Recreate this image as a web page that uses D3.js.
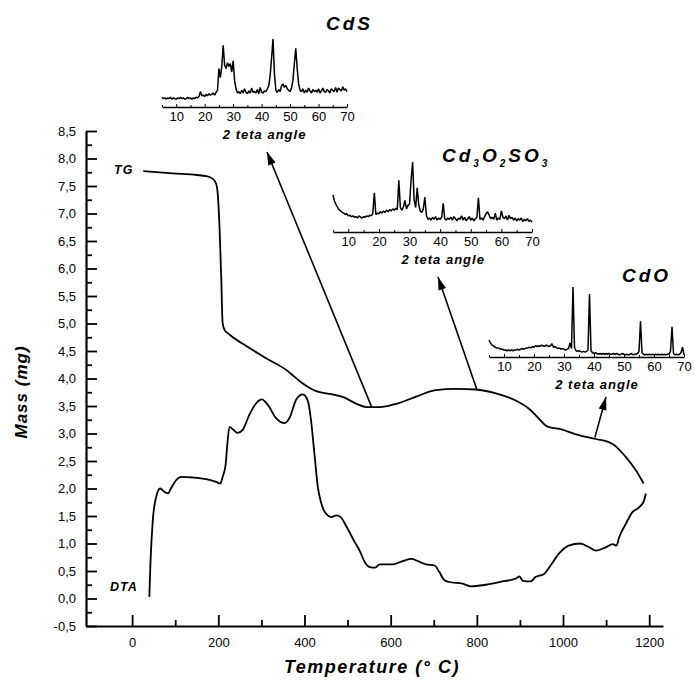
<!DOCTYPE html>
<html>
<head>
<meta charset="utf-8">
<script src="https://cdn.jsdelivr.net/npm/d3@7"></script>
<style>
  body { margin: 0; background: #fff; }
  text { font-family: "Liberation Sans", Arial, sans-serif; fill: #000; }
  .bi { font-weight: bold; font-style: italic; }
</style>
</head>
<body>
<div id="canvas"></div>
<script>
// TG curve (temperature in °C, mass in mg)
const tgTemp = [26, 94, 150, 172, 187, 195, 199, 203, 207, 210, 214, 226, 265, 311, 357, 396, 427, 458, 490, 521, 544, 575, 613, 659, 705, 751, 798, 844, 890, 921, 944, 963, 998, 1028, 1059, 1076, 1115, 1146, 1169, 1187];
const tgMass = [7.77, 7.73, 7.70, 7.68, 7.63, 7.54, 7.33, 6.72, 5.80, 5.01, 4.89, 4.80, 4.59, 4.37, 4.16, 3.91, 3.77, 3.72, 3.66, 3.54, 3.48, 3.48, 3.54, 3.67, 3.79, 3.81, 3.80, 3.73, 3.60, 3.45, 3.27, 3.13, 3.07, 2.99, 2.93, 2.90, 2.81, 2.57, 2.33, 2.09];

// DTA curve, drawn on the same axis
const dtaTemp = [40, 42.5, 48, 56, 65, 75, 83, 90, 102, 114, 141, 172, 195, 205, 210, 217, 220.5, 226, 235, 245, 257, 272, 288, 301, 315, 334, 354, 365, 381, 396, 408, 415, 423, 431, 439, 450, 462, 474, 484, 498, 517, 528, 540, 552, 563, 575, 605, 628, 648, 663, 682, 702, 713, 725, 736, 767, 786, 821, 859, 890, 899, 907, 925, 936, 955, 971, 990, 1013, 1040, 1061, 1076, 1099, 1115, 1124, 1130, 1146, 1161, 1177, 1188, 1192];
const dtaValue = [0.03, 0.63, 1.42, 1.85, 2.0, 1.94, 1.91, 2.0, 2.15, 2.21, 2.2, 2.17, 2.12, 2.09, 2.21, 2.43, 2.76, 3.12, 3.07, 3.01, 3.07, 3.34, 3.55, 3.62, 3.52, 3.28, 3.19, 3.28, 3.62, 3.71, 3.59, 3.25, 2.64, 2.03, 1.73, 1.54, 1.48, 1.51, 1.48, 1.30, 1.02, 0.87, 0.66, 0.57, 0.56, 0.62, 0.62, 0.68, 0.72, 0.68, 0.62, 0.60, 0.48, 0.33, 0.30, 0.27, 0.22, 0.25, 0.31, 0.36, 0.40, 0.32, 0.31, 0.39, 0.44, 0.60, 0.81, 0.96, 1.0, 0.93, 0.87, 0.93, 0.99, 0.96, 1.11, 1.36, 1.57, 1.66, 1.78, 1.91];

const massTicks = [-0.5, 0, 0.5, 1, 1.5, 2, 2.5, 3, 3.5, 4, 4.5, 5, 5.5, 6, 6.5, 7, 7.5, 8, 8.5];
const massMinor = [-0.25, 0.25, 0.75, 1.25, 1.75, 2.25, 2.75, 3.25, 3.75, 4.25, 4.75, 5.25, 5.75, 6.25, 6.75, 7.25, 7.75, 8.25];
const tempTicks = [0, 200, 400, 600, 800, 1000, 1200];
const tempMinor = [100, 300, 500, 700, 900, 1100];

// XRD insets: 2 theta grid and intensities (arbitrary units)
const twoTheta = [5, 5.5, 6, 6.5, 7, 7.5, 8, 8.5, 9, 9.5, 10, 10.5, 11, 11.5, 12, 12.5, 13, 13.5, 14, 14.5, 15, 15.5, 16, 16.5, 17, 17.5, 18, 18.5, 19, 19.5, 20, 20.5, 21, 21.5, 22, 22.5, 23, 23.5, 24, 24.5, 25, 25.5, 26, 26.5, 27, 27.5, 28, 28.5, 29, 29.5, 30, 30.5, 31, 31.5, 32, 32.5, 33, 33.5, 34, 34.5, 35, 35.5, 36, 36.5, 37, 37.5, 38, 38.5, 39, 39.5, 40, 40.5, 41, 41.5, 42, 42.5, 43, 43.5, 44, 44.5, 45, 45.5, 46, 46.5, 47, 47.5, 48, 48.5, 49, 49.5, 50, 50.5, 51, 51.5, 52, 52.5, 53, 53.5, 54, 54.5, 55, 55.5, 56, 56.5, 57, 57.5, 58, 58.5, 59, 59.5, 60, 60.5, 61, 61.5, 62, 62.5, 63, 63.5, 64, 64.5, 65, 65.5, 66, 66.5, 67, 67.5, 68, 68.5, 69, 69.5, 70];
const cdsCounts = [14, 12, 13, 11, 13, 12, 14, 11, 13, 12, 11, 13, 12, 14, 12,
  13, 11, 12, 14, 12, 13, 11, 13, 12, 14, 13,
  15, 22, 16, 17, 15, 18, 16, 19, 17, 18, 20, 17, 21, 24,
  55, 42, 58, 88, 60, 55, 63, 58, 62, 50, 66, 38, 26, 20, 22,
  19, 24, 20, 26, 21, 19, 23, 20, 27, 21, 22, 20, 25, 19, 28, 21, 20, 23, 22, 26, 30,
  45, 70, 97, 48, 24, 21,
  25, 22, 30, 33, 28, 31, 26, 24, 22, 27,
  38, 62, 84, 55, 33, 24,
  22, 26, 20, 24, 21, 27, 23, 20, 25, 22, 24, 21, 26, 20, 23, 27, 22, 21, 25, 23, 20, 26, 24, 22, 28, 21, 27, 25, 23, 29, 24, 26, 22];
const cd3o2so3Counts = [53, 44, 39, 35, 32, 30, 28, 27, 25, 26, 23, 24, 22, 23, 21,
  22, 20, 23, 21, 20, 22, 21, 23, 22, 24, 23,
  26, 56, 25, 27, 26, 29, 27, 30, 28, 31, 29, 32, 30, 33,
  31, 34, 32, 74, 35, 31, 36, 45, 33, 38, 40, 74, 100, 46, 35,
  63, 39, 30, 28, 33, 50, 24, 18, 20, 17, 21, 18, 22, 17, 20, 18, 21, 41, 19, 17, 20,
  18, 21, 17, 22, 19, 16,
  20, 18, 23, 17, 21, 16, 19, 22, 17, 20,
  16, 19, 21, 49, 18, 20,
  17, 22, 26, 29, 24, 19, 21, 18, 27, 17, 20, 18, 30, 21, 19, 23, 17, 24, 19, 21, 17, 20, 16, 19, 17, 20, 15, 18, 16, 19, 15, 17, 14];
const cdoCounts = [24, 20, 17, 16, 14, 13, 13, 12, 11, 11, 10, 10, 9, 10, 9,
  10, 9, 10, 10, 11, 10, 11, 12, 11, 12, 13,
  13, 14, 13, 15, 14, 16, 15, 16, 15, 17, 16, 15, 17, 16,
  15, 16, 19, 14, 15, 13, 12, 13, 11, 12, 11, 10, 11, 12, 20,
  12, 100, 14, 9, 8, 9, 8, 7, 8, 7, 8, 10, 90, 9, 6, 5, 6, 5, 4, 5, 4,
  5, 4, 5, 4, 5, 4,
  4, 5, 4, 5, 4, 3, 4, 5, 4, 3,
  4, 3, 4, 5, 3, 4,
  4, 5, 8, 51, 6, 4, 3, 4, 3, 4, 3, 4, 3, 4, 3, 4, 3, 4, 3, 4, 3, 4, 4, 8, 43, 5, 3, 4, 3, 4, 6, 14, 3];
const xrdTicks = [10, 20, 30, 40, 50, 60, 70];
const xrdMinor = [5, 15, 25, 35, 45, 55, 65];

const width = 695, height = 685;
const svg = d3.select("#canvas").append("svg")
  .attr("width", width).attr("height", height);

const x = d3.scaleLinear().domain([-107, 1232]).range([86, 663]);
const y = d3.scaleLinear().domain([-0.5, 8.5]).range([626, 131]);
const comma = d => d3.format(".1f")(d).replace(".", ",").replace("\u2212", "-");

// axes (ticks point inward)
svg.append("g").attr("transform", "translate(86,0)")
  .call(d3.axisLeft(y).tickValues(massTicks).tickSize(-11).tickSizeOuter(0).tickPadding(10).tickFormat(comma));
svg.append("g").attr("transform", "translate(86,0)")
  .call(d3.axisLeft(y).tickValues(massMinor).tickSize(-6).tickSizeOuter(0).tickFormat(""))
  .select(".domain").remove();
svg.append("g").attr("transform", "translate(0,626)")
  .call(d3.axisBottom(x).tickValues(tempTicks).tickSize(-11).tickSizeOuter(0).tickPadding(12).tickFormat(d3.format("d")));
svg.append("g").attr("transform", "translate(0,626)")
  .call(d3.axisBottom(x).tickValues(tempMinor).tickSize(-6).tickSizeOuter(0).tickFormat(""))
  .select(".domain").remove();
svg.selectAll(".domain").attr("stroke-width", 2.2).attr("stroke", "#000");
svg.selectAll(".tick line").attr("stroke-width", 1.8).attr("stroke", "#000");
svg.selectAll(".tick text").attr("font-size", 13).attr("font-family", "Liberation Sans, Arial, sans-serif").attr("fill", "#000");

// axis titles
svg.append("text").attr("class", "bi")
  .attr("transform", "translate(27,392) rotate(-90)")
  .attr("text-anchor", "middle").attr("font-size", 17).attr("letter-spacing", 1)
  .text("Mass (mg)");
svg.append("text").attr("class", "bi")
  .attr("x", 372).attr("y", 673).attr("text-anchor", "middle").attr("font-size", 18).attr("letter-spacing", 1.5)
  .text("Temperature (\u00b0 C)");

// curves
const line = d3.line().x(d => x(d[0])).y(d => y(d[1])).curve(d3.curveMonotoneX);
svg.append("path").datum(d3.zip(tgTemp, tgMass))
  .attr("d", line).attr("fill", "none").attr("stroke", "#000").attr("stroke-width", 1.8);
svg.append("path").datum(d3.zip(dtaTemp, dtaValue))
  .attr("d", line).attr("fill", "none").attr("stroke", "#000").attr("stroke-width", 1.8);

svg.append("text").attr("class", "bi").attr("x", 114).attr("y", 174).attr("font-size", 12.5).attr("letter-spacing", 1).text("TG");
svg.append("text").attr("class", "bi").attr("x", 110).attr("y", 591).attr("font-size", 12.5).attr("letter-spacing", 1).text("DTA");

// XRD insets
function drawInset(counts, left, right, axisY) {
  const xs = d3.scaleLinear().domain([5, 70]).range([left, right]);
  const ys = d3.scaleLinear().domain([0, 100]).range([axisY, axisY - 70]);
  const g = svg.append("g");
  g.append("path").datum(d3.zip(twoTheta, counts))
    .attr("d", d3.line().x(d => xs(d[0])).y(d => ys(d[1])))
    .attr("fill", "none").attr("stroke", "#000").attr("stroke-width", 1.5).attr("stroke-linejoin", "bevel");
  g.append("g").attr("transform", "translate(0," + axisY + ")")
    .call(d3.axisBottom(xs).tickValues(xrdTicks).tickSize(-3).tickSizeOuter(0).tickPadding(5));
  g.append("g").attr("transform", "translate(0," + axisY + ")")
    .call(d3.axisBottom(xs).tickValues(xrdMinor).tickSize(-2).tickSizeOuter(0).tickFormat(""))
    .select(".domain").remove();
  g.selectAll(".domain").attr("stroke-width", 1.6).attr("stroke", "#000");
  g.selectAll(".tick line").attr("stroke", "#000");
  g.selectAll(".tick text").attr("font-size", 13).attr("font-family", "Liberation Sans, Arial, sans-serif").attr("fill", "#000");
  g.append("text").attr("class", "bi").attr("x", xs(40) + 3).attr("y", axisY + 32)
    .attr("text-anchor", "middle").attr("font-size", 13).attr("letter-spacing", 1).text("2 teta angle");
}
drawInset(cdsCounts, 162, 347, 107);
drawInset(cd3o2so3Counts, 333, 532, 232);
drawInset(cdoCounts, 489, 684, 357);

// inset titles
svg.append("text").attr("class", "bi").attr("x", 326).attr("y", 30).attr("font-size", 19).attr("letter-spacing", 3).text("CdS");
const t2 = svg.append("text").attr("class", "bi").attr("x", 442).attr("y", 162).attr("font-size", 19).attr("letter-spacing", 3);
[["Cd", 0], ["3", 1], ["O", 0], ["2", 1], ["SO", 0], ["3", 1]].forEach(([s, sub], i, arr) => {
  const prevSub = i > 0 ? arr[i - 1][1] : 0;
  t2.append("tspan").attr("dy", sub === prevSub ? 0 : (sub ? 5 : -5))
    .attr("font-size", sub ? 10 : 19).text(s);
});
svg.append("text").attr("class", "bi").attr("x", 622).attr("y", 282).attr("font-size", 19).attr("letter-spacing", 3).text("CdO");

// arrows from the TG curve to the patterns
svg.append("defs").append("marker").attr("id", "head")
  .attr("viewBox", "-14 -5 16 10").attr("markerWidth", 16).attr("markerHeight", 10)
  .attr("refX", 0).attr("refY", 0).attr("orient", "auto").attr("markerUnits", "userSpaceOnUse")
  .append("path").attr("d", "M0,0 L-13,-4 L-13,4 Z").attr("fill", "#000");
const arrowFrom = [[556, 3.48], [800, 3.80], [1074, 2.93]];
const arrowTo = [[267, 152], [438, 277], [606, 397]];
arrowFrom.forEach((p, i) => {
  svg.append("line")
    .attr("x1", x(p[0])).attr("y1", y(p[1]))
    .attr("x2", arrowTo[i][0]).attr("y2", arrowTo[i][1])
    .attr("stroke", "#000").attr("stroke-width", 1.6).attr("marker-end", "url(#head)");
});
</script>
</body>
</html>
